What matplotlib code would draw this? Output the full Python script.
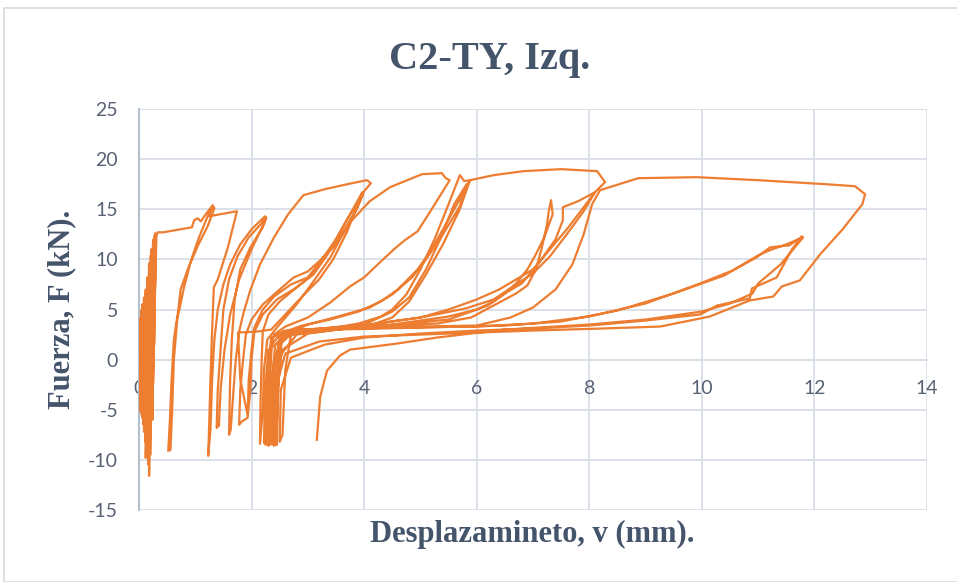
import numpy as np
import matplotlib.pyplot as plt
from matplotlib.patches import Rectangle

plt.rcParams["axes.unicode_minus"] = False

# displacement (mm) / force (kN) readings, one list pair per loading cycle
cyc0_x = [0.00, 0.02, 0.01, 0.03, 0.02, 0.04, 0.03, 0.05, 0.02, 0.06, 0.04, 0.07,
          0.05, 0.09, 0.06, 0.10, 0.08, 0.12, 0.09, 0.13, 0.11, 0.15, 0.12, 0.16, 0.14, 0.18, 0.16, 0.19,
          0.17, 0.21, 0.18, 0.22, 0.20, 0.24, 0.21, 0.25, 0.22, 0.26, 0.24, 0.28, 0.25, 0.29, 0.27, 0.30,
          0.28, 0.31, 0.33]
cyc0_y = [0.0, 3.5, -2.8, 4.2, -4.5, 4.8, -5.2, 5.0, -3.5, 5.5, -4.8, 4.6,
          -5.5, 6.2, -5.8, 5.6, -6.5, 7.0, -7.2, 6.4, -8.2, 8.2, -9.8, 7.6, -9.0, 9.6, -8.0, 9.0,
          -10.5, 10.4, -11.6, 11.0, -9.5, 10.2, -7.5, 11.6, -5.0, 12.0, -6.0, 12.4, -2.5, 12.6, 1.5, 12.2,
          6.0, 12.3, 12.7]

cyc1_x = [0.43, 0.94, 0.98, 1.04, 1.10, 1.20, 1.31, 1.34, 1.22, 1.05, 0.88, 0.74, 0.70, 0.62, 0.58,
          0.55, 0.52, 0.56, 0.59, 0.62, 0.68, 0.80, 0.92, 1.06, 1.22, 1.30, 1.24, 1.74, 1.58, 1.40,
          1.33, 1.30, 1.27, 1.25, 1.23]
cyc1_y = [12.7, 13.2, 13.9, 14.1, 13.8, 14.6, 15.4, 15.1, 13.3, 11.4, 9.2, 7.0, 5.0, 2.0, -2.0,
          -6.0, -9.1, -9.0, -5.0, 0.0, 4.0, 7.2, 9.8, 12.1, 14.3, 15.2, 14.3, 14.8, 11.2, 8.0,
          7.2, 3.0, -2.0, -6.0, -9.6]

cyc2_x = [1.27, 1.30, 1.34, 1.40, 1.50, 1.62, 1.80, 2.00, 2.24, 2.18, 1.95, 1.75, 1.60, 1.50, 1.45,
          1.40, 1.38, 1.42, 1.45, 1.52, 1.62, 1.78, 2.00, 2.22, 2.26, 2.20, 1.98, 1.80, 1.70, 1.65,
          1.62, 1.60]
cyc2_y = [-7.0, -2.0, 2.0, 5.0, 7.5, 9.5, 11.5, 13.0, 14.3, 13.6, 12.2, 10.3, 8.0, 5.0, 1.0,
          -3.0, -6.8, -6.6, -3.0, 1.0, 4.5, 8.0, 11.0, 13.6, 14.2, 13.2, 11.2, 9.0, 6.0, 2.0,
          -2.0, -7.5]

cyc3_x = [1.63, 1.68, 1.72, 1.78, 1.85, 1.97, 2.15, 2.40, 2.65, 2.92, 3.30, 3.70, 4.05, 4.12, 4.00,
          3.88, 3.70, 3.45, 3.20, 3.00, 2.75, 2.50, 2.20, 2.00, 1.90, 1.85, 1.80, 1.78, 1.82, 1.93,
          1.98, 2.00, 2.05, 2.20, 2.45, 2.80, 3.10, 3.35, 3.60, 3.85, 3.97, 3.90, 3.70, 3.50, 3.25,
          3.00, 2.70, 2.40, 2.20, 2.05, 2.00, 1.95, 1.93]
cyc3_y = [-7.0, -3.0, 0.0, 2.8, 4.5, 6.8, 9.5, 12.2, 14.5, 16.4, 17.0, 17.5, 17.9, 17.6, 16.8,
          15.2, 13.3, 11.2, 9.8, 8.8, 8.2, 7.0, 5.5, 4.0, 2.5, 0.0, -3.0, -6.5, -6.2, -5.8,
          -3.0, 0.0, 2.8, 4.5, 6.0, 7.2, 8.5, 10.5, 13.0, 15.5, 16.7, 15.8, 14.0, 12.0, 10.0,
          8.2, 7.5, 6.3, 5.0, 3.2, 1.0, -2.0, -5.5]

cyc3b_x = [1.80, 1.76, 2.10, 2.35, 2.60, 2.90, 3.20, 3.45, 3.70, 3.92, 3.98, 3.85, 3.60, 3.30, 3.10,
           2.80, 2.50, 2.30, 2.20, 2.18, 2.16, 2.15]
cyc3b_y = [-2.0, 2.7, 2.8, 3.0, 4.5, 6.3, 8.0, 10.0, 12.8, 16.0, 16.5, 14.8, 12.5, 10.2, 8.6,
           7.2, 5.8, 4.5, 2.8, 0.0, -4.0, -8.4]

cyc4_x = [2.20, 2.22, 2.28, 2.45, 2.80, 3.10, 3.40, 3.60, 3.75, 4.10, 4.46, 5.03, 5.38, 5.45,
          5.52, 5.20, 4.95, 4.72, 4.55, 4.28, 4.00, 3.75, 3.40, 3.00, 2.60, 2.40, 2.30, 2.27, 2.25]
cyc4_y = [-5.0, -1.0, 2.0, 3.2, 5.5, 7.8, 10.2, 12.3, 13.7, 15.8, 17.2, 18.5, 18.6, 18.1,
          17.9, 15.0, 12.8, 11.9, 11.1, 9.7, 8.2, 7.3, 5.7, 4.2, 3.3, 2.5, 0.0, -4.0, -8.5]

cyc4b_x = [2.28, 2.32, 2.36, 2.55, 3.00, 3.50, 3.90, 4.30, 4.50, 4.75, 5.00, 5.25, 5.50, 5.70, 5.78,
           5.88, 5.70, 5.45, 5.20, 4.95, 4.60, 4.30, 3.90, 3.40, 2.90, 2.60, 2.40, 2.33, 2.30]
cyc4b_y = [-8.3, -3.0, 1.5, 2.8, 3.0, 3.2, 3.6, 4.3, 5.0, 6.5, 9.0, 12.0, 15.5, 18.4, 17.8,
           17.9, 16.0, 13.5, 11.0, 9.0, 7.0, 5.8, 4.8, 4.0, 3.4, 2.8, 0.0, -4.0, -8.6]

cyc4c_x = [2.34, 2.37, 2.42, 2.70, 3.20, 4.00, 4.50, 4.80, 5.10, 5.35, 5.60, 5.82, 5.70, 5.40, 5.10,
           4.85, 4.50, 4.10, 3.60, 3.00, 2.50, 2.40, 2.36, 2.35]
cyc4c_y = [-8.0, -2.0, 1.5, 2.9, 3.1, 3.5, 4.8, 6.2, 9.0, 12.0, 15.5, 17.5, 15.3, 12.5, 10.0,
           8.2, 6.5, 5.2, 4.4, 3.5, 2.2, -1.0, -5.0, -8.2]

cyc5_x = [2.38, 2.42, 2.50, 2.75, 3.20, 4.00, 4.50, 4.80, 5.10, 5.40, 5.70, 5.88, 6.30, 6.83, 7.50,
          8.14, 8.28, 8.10, 7.90, 7.60, 7.30, 7.00, 6.70, 6.40, 6.00, 5.50, 5.00, 4.50, 3.80, 3.00,
          2.55, 2.45, 2.42, 2.40]
cyc5_y = [-7.5, -2.0, 1.5, 2.8, 3.0, 3.2, 4.2, 5.8, 8.5, 11.5, 15.0, 17.9, 18.4, 18.8, 19.0,
          18.8, 17.7, 16.7, 15.2, 13.0, 11.0, 9.0, 8.0, 7.0, 6.0, 5.0, 4.2, 3.8, 3.2, 2.6,
          1.0, -2.0, -5.0, -8.6]

cyc5b_x = [2.44, 2.48, 2.52, 2.90, 3.50, 4.50, 5.30, 5.90, 6.30, 6.70, 6.90, 7.05, 7.15, 7.25, 7.28,
           7.32, 7.35, 7.20, 7.05, 6.90, 6.70, 6.50, 6.30, 6.00, 5.50, 4.50, 3.50, 2.80, 2.52, 2.47,
           2.45]
cyc5b_y = [-8.3, -2.0, 2.0, 2.9, 3.1, 3.4, 3.6, 4.2, 5.4, 6.6, 7.4, 9.0, 11.0, 13.5, 14.8,
           15.9, 14.5, 12.2, 10.5, 9.0, 7.6, 6.6, 5.8, 5.0, 4.3, 3.5, 3.0, 2.5, 0.5, -3.0,
           -8.5]

cyc5c_x = [2.25, 2.28, 2.35, 2.70, 3.50, 4.60, 5.50, 6.20, 6.50, 6.80, 7.10, 7.40, 7.53, 7.53, 7.80,
           8.10, 7.90, 7.60, 7.30, 7.00, 6.70, 6.30, 5.80, 5.00, 4.20, 3.40, 2.70, 2.30, 2.24, 2.22]
cyc5c_y = [-8.4, -1.5, 2.2, 2.9, 3.1, 3.5, 4.0, 5.4, 6.6, 7.6, 9.6, 12.0, 13.9, 15.2, 15.8,
           16.7, 14.8, 12.5, 10.3, 8.6, 7.5, 6.0, 5.1, 4.2, 3.6, 3.0, 2.6, 1.0, -3.0, -8.3]

cyc6_x = [2.26, 2.30, 2.36, 2.60, 3.50, 5.00, 6.00, 6.60, 7.00, 7.40, 7.70, 7.90, 8.05, 8.19, 8.87,
          9.91, 11.00, 12.20, 12.72, 12.90, 12.85, 12.50, 12.10, 11.74, 11.42, 11.27, 10.85, 10.14, 9.26, 8.20,
          7.00, 6.00, 5.00, 4.00, 3.20, 2.60, 2.42, 2.40, 2.38]
cyc6_y = [-8.2, -1.0, 2.2, 2.9, 3.1, 3.3, 3.4, 4.2, 5.2, 7.0, 9.5, 12.5, 15.5, 16.9, 18.1,
          18.2, 17.9, 17.5, 17.3, 16.5, 15.5, 13.0, 10.5, 7.9, 7.3, 6.3, 5.9, 4.3, 3.3, 3.1,
          2.9, 2.7, 2.5, 2.3, 1.8, 0.6, -3.0, -6.0, -8.4]

cyc7_x = [2.42, 2.46, 2.55, 3.20, 4.50, 6.00, 7.00, 8.00, 9.00, 9.97, 10.55, 10.97, 11.09, 11.21, 11.55,
          11.74, 11.78, 11.60, 11.33, 10.89, 10.85, 10.27, 9.97, 9.00, 8.00, 7.00, 6.00, 5.00, 4.00, 3.30,
          2.70, 2.52, 2.50]
cyc7_y = [-8.0, -2.0, 2.5, 3.0, 3.2, 3.3, 3.6, 4.3, 5.6, 7.6, 8.9, 10.2, 10.7, 11.2, 11.4,
          12.1, 12.3, 11.0, 8.2, 7.1, 6.1, 5.4, 4.5, 3.9, 3.4, 3.1, 2.9, 2.6, 2.2, 1.5,
          0.2, -3.0, -8.2]

cyc7b_x = [2.55, 2.60, 2.70, 3.50, 5.00, 6.50, 7.50, 8.50, 9.50, 10.40, 11.00, 11.20, 11.50, 11.80, 11.65,
           11.40, 11.00, 10.90, 10.50, 10.00, 9.00, 8.00, 6.50, 5.29, 4.58, 3.75, 3.57, 3.34, 3.22, 3.16]
cyc7b_y = [-7.5, -1.0, 2.5, 3.0, 3.2, 3.4, 3.8, 4.9, 6.6, 8.4, 10.4, 10.9, 11.5, 12.2, 11.2,
           9.5, 7.6, 6.6, 5.6, 4.8, 4.0, 3.5, 3.0, 2.2, 1.6, 1.0, 0.4, -1.1, -3.7, -8.0]

xs = [cyc0_x, cyc1_x, cyc2_x, cyc3_x, cyc3b_x, cyc4_x, cyc4b_x, cyc4c_x,
      cyc5_x, cyc5b_x, cyc5c_x, cyc6_x, cyc7_x, cyc7b_x]
ys = [cyc0_y, cyc1_y, cyc2_y, cyc3_y, cyc3b_y, cyc4_y, cyc4b_y, cyc4c_y,
      cyc5_y, cyc5b_y, cyc5c_y, cyc6_y, cyc7_y, cyc7b_y]
desp = np.concatenate(xs)
fuerza = np.concatenate(ys)

text_col = "#44546A"
tick_col = "#596275"
grid_col = "#D9DEE7"

fig = plt.figure(figsize=(9.57, 5.82), dpi=100)
fig.patches.append(Rectangle((0.004, 0.0), 1.0, 0.987, transform=fig.transFigure,
                             fill=False, edgecolor="#D9D9D9", linewidth=1.2))
ax = fig.add_axes([0.1452, 0.1237, 0.8235, 0.689])

ax.plot(desp, fuerza, color="#ED7D31", lw=1.6, solid_joinstyle="round", zorder=3)

ax.set_xlim(0, 14)
ax.set_ylim(-15, 25)
ax.set_xticks(np.arange(0, 15, 2))
ax.set_yticks(np.arange(-15, 26, 5))
ax.grid(True, color=grid_col, lw=1.3)
ax.set_axisbelow(True)

for s in ["top", "right"]:
    ax.spines[s].set_visible(False)
ax.spines["left"].set_color("#B4BFCE")
ax.spines["left"].set_linewidth(1.5)
ax.spines["bottom"].set_position(("data", 0))
ax.spines["bottom"].set_color(grid_col)
ax.spines["bottom"].set_linewidth(1.3)

ax.tick_params(axis="both", length=0, labelsize=14, labelcolor=tick_col)
ax.tick_params(axis="y", pad=15)
ax.tick_params(axis="x", pad=15)
for lab in ax.get_xticklabels() + ax.get_yticklabels():
    lab.set_family("Lato")

serif = "Liberation Serif"
fig.text(0.512, 0.897, "C2-TY, Izq.", ha="center", va="center", family=serif,
         weight="bold", fontsize=29, color=text_col)
fig.text(0.556, 0.081, "Desplazamineto, v (mm).", ha="center", va="center", family=serif,
         weight="bold", fontsize=22, color=text_col)
fig.text(0.065, 0.468, "Fuerza, F (kN).", ha="center", va="center", rotation=90,
         family=serif, weight="bold", fontsize=22, color=text_col)

fig.savefig("out.png", dpi=100)
